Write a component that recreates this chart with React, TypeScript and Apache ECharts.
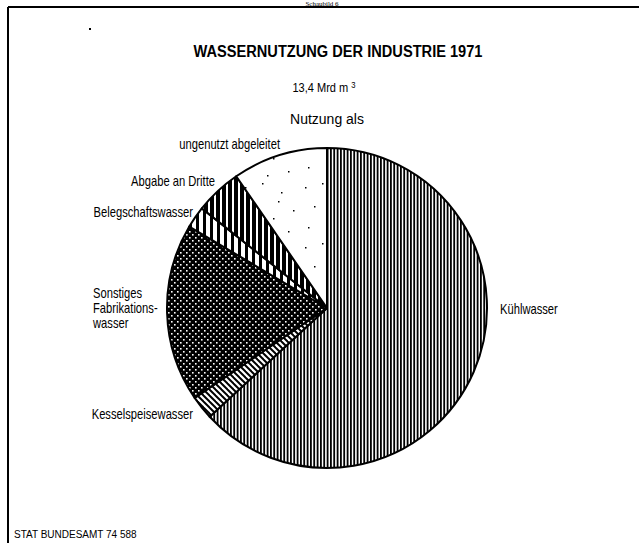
import React, { useEffect, useRef } from 'react';
import * as echarts from 'echarts';

// ---- data ----
const categories = [
  'Kühlwasser',
  'Kesselspeisewasser',
  'Sonstiges\nFabrikations-\nwasser',
  'Belegschaftswasser',
  'Abgabe an Dritte',
  'ungenutzt abgeleitet',
];
const shares = [63.1, 2.4, 18.0, 2.2, 4.7, 9.6]; // percent of 13,4 Mrd m3
const titleText = 'WASSERNUTZUNG DER INDUSTRIE 1971';
const totalText = '13,4 Mrd m';
const subText = 'Nutzung als';
const sourceText = 'STAT BUNDESAMT 74 588';
const headText = 'Schaubild 6';

// label anchors (x, y, align) per slice
const labelPos: [number, number, string][] = [
  [500, 310, 'left'],
  [193, 415, 'right'],
  [93, 309, 'left'],
  [193, 213, 'right'],
  [215, 182, 'right'],
  [280, 145, 'right'],
];

const dotSpots = [
  [5, 7], [22, 3], [41, 12], [53, 30], [14, 26], [33, 38], [48, 51], [8, 47], [27, 55], [38, 21],
];

function makeCanvas(w: number, h: number, draw: (c: CanvasRenderingContext2D) => void) {
  const c = document.createElement('canvas');
  c.width = w;
  c.height = h;
  const ctx = c.getContext('2d')!;
  draw(ctx);
  return c;
}

function patterns() {
  const kuehl = makeCanvas(10, 4, (c) => {
    c.fillStyle = '#fff';
    c.fillRect(0, 0, 10, 4);
    c.fillStyle = '#000';
    c.fillRect(0, 0, 1.8, 4);
    c.fillRect(3.3, 0, 1.8, 4);
    c.fillRect(6.7, 0, 1.8, 4);
  });
  const kessel = makeCanvas(6, 6, (c) => {
    c.fillStyle = '#fff';
    c.fillRect(0, 0, 6, 6);
    c.strokeStyle = '#000';
    c.lineWidth = 2;
    for (const k of [-6, 0, 6]) {
      c.beginPath();
      c.moveTo(k - 1, -1);
      c.lineTo(k + 7, 7);
      c.stroke();
    }
  });
  const sonst = makeCanvas(6, 6, (c) => {
    c.fillStyle = '#000';
    c.fillRect(0, 0, 6, 6);
    c.fillStyle = '#fff';
    c.fillRect(0, 0, 1.6, 1.6);
    c.fillRect(3, 3, 1.6, 1.6);
  });
  const beleg = makeCanvas(7, 4, (c) => {
    c.fillStyle = '#fff';
    c.fillRect(0, 0, 7, 4);
    c.fillStyle = '#000';
    c.fillRect(0, 0, 3, 4);
  });
  const abgabe = makeCanvas(6, 4, (c) => {
    c.fillStyle = '#000';
    c.fillRect(0, 0, 6, 4);
    c.fillStyle = '#fff';
    c.fillRect(4, 0, 2, 4);
  });
  const ungen = makeCanvas(60, 60, (c) => {
    c.fillStyle = '#fff';
    c.fillRect(0, 0, 60, 60);
    c.fillStyle = '#000';
    for (const [x, y] of dotSpots) c.fillRect(x, y, 1.5, 1.5);
  });
  return [kuehl, kessel, sonst, beleg, abgabe, ungen].map((img) => ({
    image: img,
    repeat: 'repeat',
  }));
}

const SANS = '"Liberation Sans", Arial, sans-serif';

export default function App() {
  const ref = useRef<HTMLDivElement>(null);
  useEffect(() => {
    if (!ref.current) return;
    const chart = echarts.init(ref.current, null, { renderer: 'svg' });
    const pats = patterns();
    const labelTexts = categories.map((name, i) => {
      const lp = labelPos[i];
      return {
        type: 'text',
        x: lp[0],
        y: lp[1],
        scaleX: 0.8,
        style: {
          text: name,
          font: '14px ' + SANS,
          lineHeight: 15,
          fill: '#000',
          align: lp[2],
          verticalAlign: 'middle',
        },
      };
    });
    chart.setOption({
      animation: false,
      backgroundColor: '#fff',
      graphic: [
        { type: 'line', shape: { x1: 8, y1: 7, x2: 639, y2: 7 }, style: { stroke: '#000', lineWidth: 2 } },
        { type: 'line', shape: { x1: 8, y1: 7, x2: 8, y2: 543 }, style: { stroke: '#000', lineWidth: 2 } },
        {
          type: 'text', x: 322, y: 0,
          style: { text: headText, font: '7px "Liberation Serif", serif', fill: '#000', align: 'center', verticalAlign: 'top' },
        },
        { type: 'rect', shape: { x: 89, y: 28, width: 2, height: 2 }, style: { fill: '#000' } },
        {
          type: 'text', x: 338, y: 51, scaleX: 0.86,
          style: { text: titleText, font: 'bold 17px ' + SANS, fill: '#000', align: 'center', verticalAlign: 'middle' },
        },
        {
          type: 'text', x: 324, y: 88, scaleX: 0.85,
          style: {
            text: totalText + ' {sup|3}',
            font: '13px ' + SANS, fill: '#000', align: 'center', verticalAlign: 'middle',
            rich: { sup: { fontSize: 9, fontFamily: 'Liberation Sans', padding: [0, 0, 7, 0] } },
          },
        },
        {
          type: 'text', x: 327, y: 119,
          style: { text: subText, font: '14px ' + SANS, fill: '#000', align: 'center', verticalAlign: 'middle' },
        },
        {
          type: 'text', x: 14, y: 534,
          style: { text: sourceText, font: '10px ' + SANS, fill: '#000', align: 'left', verticalAlign: 'middle' },
        },
        ...labelTexts,
      ],
      series: [
        {
          type: 'pie',
          center: [327, 308],
          radius: 160,
          startAngle: 90,
          clockwise: true,
          silent: true,
          emphasis: { disabled: true },
          itemStyle: { borderColor: '#000', borderWidth: 2 },
          label: { show: false },
          labelLine: { show: false },
          data: categories.map((name, i) => ({
            name,
            value: shares[i],
            itemStyle: { color: pats[i] },
          })),
        },
      ],
    });
    return () => chart.dispose();
  }, []);
  return (
    <div
      ref={ref}
      style={{ position: 'fixed', left: 0, top: 0, width: 639, height: 543 }}
    />
  );
}
